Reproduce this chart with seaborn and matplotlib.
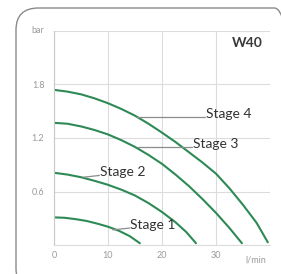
import matplotlib
matplotlib.use("Agg")
import matplotlib.pyplot as plt
import matplotlib.transforms as mtransforms
from matplotlib.patches import FancyBboxPatch
import seaborn as sns
import pandas as pd

# pump curves: flow in l/min, pressure in bar
flow_1 = [0, 2, 4, 6, 8, 10, 12, 14, 15.9]
bar_1 = [0.31, 0.305, 0.29, 0.27, 0.24, 0.205, 0.16, 0.10, 0.02]
flow_2 = [0, 2.5, 5, 7.5, 10, 12.5, 15, 17.5, 20, 22.5, 24.5, 26.3]
bar_2 = [0.81, 0.79, 0.76, 0.72, 0.675, 0.62, 0.555, 0.47, 0.37, 0.255, 0.145, 0.02]
flow_3 = [0, 2.5, 5, 7.5, 10, 12.5, 15, 17.5, 20, 22.5, 25, 27.5, 30, 32.5, 34.8]
bar_3 = [1.37, 1.36, 1.33, 1.29, 1.24, 1.175, 1.10, 1.01, 0.91, 0.79, 0.66,
         0.515, 0.36, 0.19, 0.02]
flow_4 = [0, 2.5, 5, 7.5, 10, 12.5, 15, 17.5, 20, 22.5, 25, 27.5, 30, 32.5,
          35, 37.5, 39.6]
bar_4 = [1.74, 1.72, 1.69, 1.645, 1.59, 1.525, 1.45, 1.36, 1.26, 1.155, 1.04,
         0.925, 0.80, 0.635, 0.45, 0.25, 0.03]

stage_names = ["Stage 1", "Stage 2", "Stage 3", "Stage 4"]
x_ticks = [0, 10, 20, 30, 40]
x_labels = ["0", "10", "20", "30", ""]
y_ticks = [0, 0.6, 1.2, 1.8, 2.4]
y_labels = ["", "0.6", "1.2", "1.8", ""]

frames = []
for name, fl, pr in zip(stage_names, [flow_1, flow_2, flow_3, flow_4],
                        [bar_1, bar_2, bar_3, bar_4]):
    frames.append(pd.DataFrame({"flow": fl, "pressure": pr, "stage": name}))
df = pd.concat(frames, ignore_index=True)

sns.set_theme(style="white")
plt.rcParams["font.family"] = ["Lato", "DejaVu Sans"]

green = "#2e8a55"
grid_col = "#dcdcdc"
label_col = "#9a9a9a"
text_col = "#333333"

fig = plt.figure(figsize=(2.81, 2.74), dpi=100)
fig.patch.set_facecolor("white")

# rounded frame around the chart
frame = FancyBboxPatch((16 / 281, -0.06), 1.0, 1 - 8 / 274 + 0.06,
                       boxstyle="round,pad=0,rounding_size=0.08",
                       transform=fig.transFigure, fill=False,
                       edgecolor="#8a8a8a", linewidth=1.0)
fig.add_artist(frame)

ax = fig.add_axes([54 / 281, 1 - 245 / 274, 216 / 281, 214 / 274])
sns.lineplot(data=df, x="flow", y="pressure", hue="stage",
             palette=[green] * 4, estimator=None, sort=True,
             legend=False, linewidth=1.5, ax=ax)

ax.set_xlim(0, 40)
ax.set_ylim(0, 2.4)
ax.set_xticks(x_ticks)
ax.set_xticklabels(x_labels)
ax.set_yticks(y_ticks)
ax.set_yticklabels(y_labels)
ax.set_xlabel("")
ax.set_ylabel("")
ax.tick_params(length=0, labelsize=6.5, labelcolor=label_col)
ax.tick_params(axis="y", pad=7)
ax.tick_params(axis="x", pad=4)
ax.grid(True, color=grid_col, linewidth=0.8)
for side in ["top", "right"]:
    ax.spines[side].set_visible(False)
ax.spines["left"].set_color("#c8c8c8")
ax.spines["bottom"].set_color(grid_col)
ax.spines["left"].set_linewidth(0.8)
ax.spines["bottom"].set_linewidth(0.8)

# unit labels
ax.text(-0.045, 2.4, "bar", transform=mtransforms.blended_transform_factory(
    ax.transAxes, ax.transData), ha="right", va="center",
    fontsize=6.5, color=label_col)
ax.text(37.4, -0.05, "l/min", transform=mtransforms.blended_transform_factory(
    ax.transData, ax.transAxes), ha="center", va="top",
    fontsize=6.5, color=label_col)

ax.text(38.7, 2.26, "W40", ha="right", va="center", fontsize=10,
        fontweight="bold", color="#3a3a3a")

# leader lines and stage labels
lead = "#8c8c8c"
ax.plot([15.4, 28.0], [1.43, 1.43], color=lead, linewidth=0.9)
ax.text(28.2, 1.42, "Stage 4", ha="left", va="baseline", fontsize=10, color=text_col)
ax.plot([15.6, 25.6], [1.10, 1.10], color=lead, linewidth=0.9)
ax.text(25.8, 1.09, "Stage 3", ha="left", va="baseline", fontsize=10, color=text_col)
ax.plot([5.4, 8.4], [0.76, 0.78], color=lead, linewidth=0.9)
ax.text(8.5, 0.77, "Stage 2", ha="left", va="baseline", fontsize=10, color=text_col)
ax.plot([10.9, 14.0], [0.17, 0.19], color=lead, linewidth=0.9)
ax.text(14.1, 0.18, "Stage 1", ha="left", va="baseline", fontsize=10, color=text_col)

fig.savefig("out.png", dpi=100)
